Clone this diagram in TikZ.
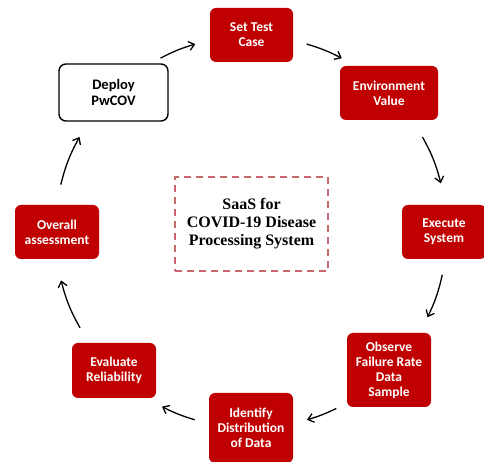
\documentclass[tikz,border=0pt]{standalone}
\usepackage{fontspec}
\setmainfont{Carlito}
\newfontfamily\hubfont{Liberation Serif}
\usetikzlibrary{arrows.meta,calc}
\definecolor{boxred}{HTML}{C00000}
\definecolor{dashred}{HTML}{C86670}
\begin{document}
\begin{tikzpicture}[x=1pt,y=1pt,
  redbox/.style={fill=boxred, rounded corners=6pt, text=white, font=\fontsize{13.5}{15}\selectfont\bfseries, align=center, inner sep=0pt},
  whitebox/.style={draw=black, line width=1.4pt, fill=white, rounded corners=7pt, text=black, font=\fontsize{14.5}{15.7}\selectfont\bfseries, align=center, inner sep=0pt},
  hubbox/.style={draw=dashred, line width=1.4pt, dash pattern=on 7pt off 5pt, font=\hubfont\fontsize{16}{18}\selectfont\bfseries, align=center, inner sep=0pt, minimum width=153pt, minimum height=94pt},
  arr/.style={-{Straight Barb[length=5.5pt,width=9pt]}, line width=1.3pt, black}
]
\useasboundingbox (0,0) rectangle (484,462);
\node[redbox, minimum width=83pt, minimum height=54pt] (set) at (251.5,427) {Set Test\\Case};
\node[redbox, minimum width=98pt, minimum height=54pt] (env) at (389,369) {Environment\\Value};
\node[whitebox, minimum width=109pt, minimum height=57pt] (deploy) at (113.5,369.5) {Deploy\\PwCOV};
\node[redbox, minimum width=84pt, minimum height=54pt] (overall) at (57,230) {Overall\\assessment};
\node[redbox, minimum width=84pt, minimum height=54pt] (exec) at (444,230) {Execute\\System};
\node[redbox, minimum width=84pt, minimum height=55pt] (eval) at (114,91.5) {Evaluate\\Reliability};
\node[redbox, minimum width=84pt, minimum height=74pt] (obs) at (389,92) {Observe\\Failure Rate\\Data\\Sample};
\node[redbox, minimum width=84pt, minimum height=70pt] (ident) at (251,34) {Identify\\Distribution\\of Data};
\node[hubbox] (hub) at (251.5,238) {SaaS for\\COVID-19 Disease\\Processing System};
\coordinate (ring) at (251,230);
\foreach \n/\a/\b in {1/117.5/106.5, 2/73.5/62.4, 3/29/14.4, 4/-12.6/-25.8, 5/-64.2/-73.4, 6/-106.7/-117, 7/-150.7/-165.7, 8/166/151}{
  \coordinate (s\n) at ($(ring)+(\a:196)$);
  \coordinate (e\n) at ($(ring)+(\b:196)$);
}
\draw[arr] (s1) to[bend left=5.5] (e1);
\draw[arr] (s2) to[bend left=5.5] (e2);
\draw[arr] (s3) to[bend left=7.3] (e3);
\draw[arr] (s4) to[bend left=6.6] (e4);
\draw[arr] (s5) to[bend left=4.6] (e5);
\draw[arr] (s6) to[bend left=5.2] (e6);
\draw[arr] (s7) to[bend left=7.5] (e7);
\draw[arr] (s8) to[bend left=7.5] (e8);
\end{tikzpicture}
\end{document}
